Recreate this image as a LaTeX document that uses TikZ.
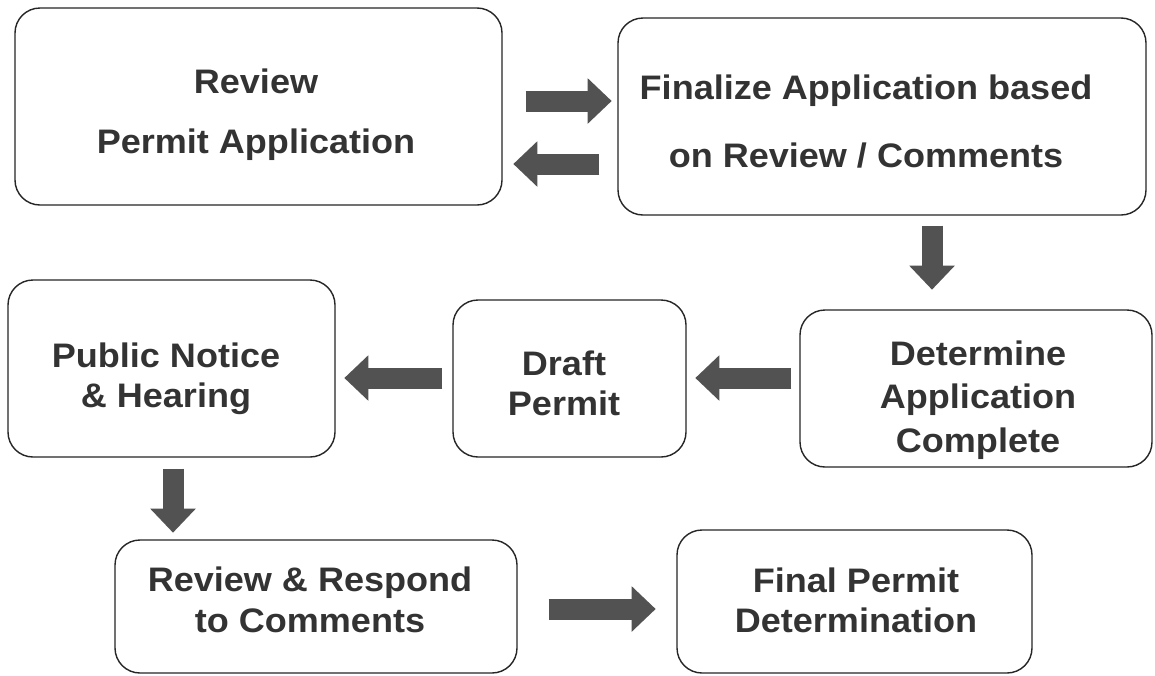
\documentclass[tikz,border=0pt]{standalone}
\usepackage{fontspec}
\setmainfont[FakeStretch=1.06]{Liberation Sans}
\usetikzlibrary{arrows.meta}
\begin{document}
\begin{tikzpicture}[x=1pt,y=-1pt,
  box/.style={draw=black!85, line width=1.4pt, rounded corners=25pt, fill=white, inner sep=0pt},
  lbl/.style={align=center, text=black!80, inner sep=0pt},
  blk/.style={line width=21pt, draw=black!68,
    -{Triangle[length=24pt,width=44pt]}}
]
\useasboundingbox (0,0) rectangle (1155,675);
\fill[white] (0,0) rectangle (1155,675);

% boxes
\node[box, minimum width=487pt, minimum height=197pt] (b1) at (258.5,106.5) {};
\node[box, minimum width=528pt, minimum height=197pt] (b2) at (882,116.5) {};
\node[box, minimum width=352pt, minimum height=157pt] (b3) at (976,388.5) {};
\node[box, minimum width=233pt, minimum height=157pt] (b4) at (569.5,378.5) {};
\node[box, minimum width=327pt, minimum height=177pt] (b5) at (171.5,368.5) {};
\node[box, minimum width=402pt, minimum height=133pt] (b6) at (316,606.5) {};
\node[box, minimum width=355pt, minimum height=143pt] (b7) at (854.5,601.5) {};

% texts
\node[lbl, font=\bfseries\fontsize{34}{60}\selectfont] (t1) at (256,114.4) {Review\\Permit Application};
\node[lbl, font=\bfseries\fontsize{34}{68}\selectfont] (t2) at (866,122) {Finalize Application based\\on Review / Comments};
\node[lbl, font=\bfseries\fontsize{34}{43.5}\selectfont] (t3) at (978,399.9) {Determine\\Application\\Complete};
\node[lbl, font=\bfseries\fontsize{34}{40}\selectfont] (t4) at (564,383.8) {Draft\\Permit};
\node[lbl, font=\bfseries\fontsize{34}{40}\selectfont] (t5) at (166,378.4) {Public Notice\\\& Hearing};
\node[lbl, font=\bfseries\fontsize{34}{41}\selectfont] (t6) at (310,600.3) {Review \& Respond\\to Comments};
\node[lbl, font=\bfseries\fontsize{34}{40}\selectfont] (t7) at (856,600.8) {Final Permit\\Determination};

% block arrows
\draw[blk] (b1.east) ++(23,-5.5) -- ++(86,0);
\draw[blk] (b2.west) ++(-18,47.5) -- ++(-86,0);
\draw[blk] (b2.south) ++(50,10) -- ++(0,64);
\draw[blk] (b3.west) ++(-8,-10.5) -- ++(-96,0);
\draw[blk] (b4.west) ++(-10,-0.5) -- ++(-98,0);
\draw[blk] (b5.south) ++(1.5,11) -- ++(0,64);
\draw[blk] (b6.east) ++(31,2.5) -- ++(107,0);
\end{tikzpicture}
\end{document}
